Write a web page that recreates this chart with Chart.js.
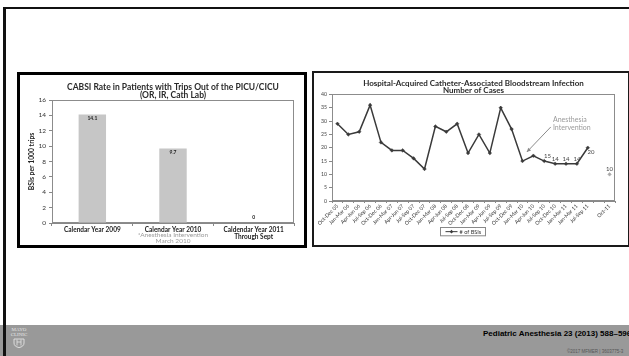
<!DOCTYPE html>
<html>
<head>
<meta charset="utf-8">
<script src="https://cdn.jsdelivr.net/npm/chart.js@4.4.1/dist/chart.umd.min.js"></script>
<style>
html,body{margin:0;padding:0;}
body{width:629px;height:356px;overflow:hidden;position:relative;background:#fff;font-family:"Liberation Sans",Arial,sans-serif;}
#footer{position:absolute;left:0;top:325px;width:629px;height:31px;background:#999;}
#frame{position:absolute;left:3px;top:7px;width:640px;height:360px;border-left:3px solid #111;border-top:2px solid #111;}
.panel{position:absolute;box-sizing:border-box;background:#fff;}
#p1{left:17px;top:72px;width:290px;height:176px;border:3px solid #000;}
#p2{left:312px;top:71px;width:318px;height:176px;border:2px solid #1a1a1a;}
.panel canvas{display:block;}
#cite{position:absolute;left:483px;top:329px;font-size:8px;font-weight:bold;line-height:9px;color:#000;white-space:nowrap;}
#copy{position:absolute;left:567px;top:349px;font-size:4.5px;line-height:5px;color:#555;white-space:nowrap;}
#logo{position:absolute;left:10px;top:328px;width:18px;color:#e4e4e4;font-family:"Liberation Serif","DejaVu Serif",serif;font-size:5px;line-height:4.6px;text-align:center;}
#logo svg{display:block;margin:1px auto 0;}
</style>
</head>
<body>
<div id="footer"></div>
<div id="frame"></div>
<div class="panel" id="p1"><canvas id="c1" width="284" height="170"></canvas></div>
<div class="panel" id="p2"><canvas id="c2" width="314" height="172"></canvas></div>
<div id="logo">MAYO<br>CLINIC<svg width="12" height="10" viewBox="0 0 12 10"><path d="M1 1 H11 V5 Q11 8.5 6 9.6 Q1 8.5 1 5 Z" fill="none" stroke="#e4e4e4" stroke-width="0.9"/><path d="M4 1.5 V7.5 M8 1.5 V7.5 M4 4 H8" fill="none" stroke="#e4e4e4" stroke-width="0.8"/></svg></div>
<div id="cite">Pediatric Anesthesia 23 (2013) 588–596</div>
<div id="copy">©2017 MFMER | 3603775-3</div>
<script>
// ---- Left chart data ----
const barTitle = ["CABSI Rate in Patients with Trips Out of the PICU/CICU", "(OR, IR, Cath Lab)"];
const barCategories = [["Calendar Year 2009"], ["Calendar Year 2010"], ["Caldendar Year 2011", "Through Sept"]];
const barCategoryNote = ["*Anesthesia Intervention", "March 2010"];
const barValues = [14.1, 9.7, 0];
const barValueLabels = ["14.1", "9.7", "0"];
const barAxisTitle = "BSIs per 1000 trips";

// ---- Right chart data ----
const bsiTitle = ["Hospital-Acquired Catheter-Associated Bloodstream Infection", "Number of Cases"];
const bsiQuarters = ["Oct-Dec 05", "Jan-Mar 06", "Apr-Jun 06", "Jul-Sep 06", "Oct-Dec 06", "Jan-Mar 07", "Apr-Jun 07", "Jul-Sep 07", "Oct-Dec 07", "Jan-Mar 08", "Apr-Jun 08", "Jul-Sep 08", "Oct-Dec 08", "Jan-Mar 09", "Apr-Jun 09", "Jul-Sep 09", "Oct-Dec 09", "Jan-Mar 10", "Apr-Jun 10", "Jul-Sep 10", "Oct-Dec 10", "Jan-Mar 11", "Jan-Mar 11", "Jul-Sep 11", "", "Oct-11"];
const bsiCounts = [29, 25, 26, 36, 22, 19, 19, 16, 12, 28, 26, 29, 18, 25, 18, 35, 27, 15, 17, 15, 14, 14, 14, 20, null, 10];
const bsiSeriesName = "# of BSIs";
const bsiNote = ["Anesthesia", "Intervention"];

const frameBox = {
  id: 'frameBox',
  beforeDatasetsDraw(chart, args, opts) {
    const {ctx, chartArea: a} = chart;
    ctx.save();
    ctx.strokeStyle = opts.color || '#8c8c8c';
    ctx.lineWidth = 1;
    ctx.strokeRect(Math.round(a.left) + 0.5, Math.round(a.top) + 0.5, Math.round(a.right - a.left) - 1, Math.round(a.bottom - a.top) - 1);
    ctx.restore();
  }
};

const barDecor = {
  id: 'barDecor',
  afterDatasetsDraw(chart) {
    const {ctx} = chart;
    const meta = chart.getDatasetMeta(0);
    ctx.save();
    ctx.font = 'bold 5px Lato';
    ctx.fillStyle = '#222';
    ctx.textAlign = 'center';
    ctx.textBaseline = 'middle';
    meta.data.forEach((bar, i) => {
      const h = bar.base - bar.y;
      const y = h > 12 ? bar.y + 4 : bar.y - 6;
      ctx.fillText(barValueLabels[i], bar.x, y);
    });
    const xs = chart.scales.x;
    ctx.font = '6.5px Lato';
    ctx.fillStyle = '#9a9a9a';
    const cx = xs.getPixelForValue(1);
    barCategoryNote.forEach((t, k) => ctx.fillText(t, cx, chart.chartArea.bottom + 12 + k * 6.2));
    ctx.restore();
  }
};

new Chart(document.getElementById('c1'), {
  type: 'bar',
  data: {
    labels: barCategories,
    datasets: [{
      data: barValues,
      backgroundColor: '#c6c6c6',
      borderWidth: 0,
      categoryPercentage: 1,
      barPercentage: 0.34
    }]
  },
  options: {
    responsive: false, animation: false, devicePixelRatio: 1,
    layout: {padding: {left: 4, right: 10, top: 0, bottom: 0}},
    plugins: {
      legend: {display: false},
      tooltip: {enabled: false},
      title: {display: true, fullSize: false, text: barTitle, color: '#2a2a2a',
        font: {family: 'Lato', weight: 'bold', size: 8.5, lineHeight: 0.965},
        padding: {top: 7.9, bottom: 0.7}},
      frameBox: {color: '#8c8c8c'}
    },
    scales: {
      x: {
        grid: {drawOnChartArea: false, tickLength: 3, color: '#888', offset: true},
        border: {color: '#888'},
        ticks: {font: {family: 'Lato', weight: 'bold', size: 6.5, lineHeight: 0.97}, color: '#222', padding: 1, maxRotation: 0, autoSkip: false},
        afterFit: s => { s.height = 22; }
      },
      y: {
        min: 0, max: 16,
        ticks: {stepSize: 2, font: {family: 'Lato', size: 6.5}, color: '#333', padding: 3},
        grid: {drawOnChartArea: false, tickLength: 3, color: '#888'},
        border: {color: '#888'},
        title: {display: true, text: barAxisTitle, color: '#222', font: {family: 'Lato', weight: 'bold', size: 6.8}, padding: {top: 4, bottom: 0}},
        afterFit: s => { s.width = 28; }
      }
    }
  },
  plugins: [frameBox, barDecor]
});

const bsiDecor = {
  id: 'bsiDecor',
  afterDatasetsDraw(chart, args, o) {
    const {ctx, chartArea: a} = chart;
    const xs = chart.scales.x, ys = chart.scales.y;
    const meta = chart.getDatasetMeta(0);
    ctx.save();
    ctx.font = '6px Lato';
    ctx.fillStyle = '#444';
    ctx.textAlign = 'center';
    ctx.textBaseline = 'middle';
    Object.keys(o.pointLabels).forEach(k => {
      const i = +k, off = o.pointLabels[k];
      const p = meta.data[i];
      ctx.fillText(String(bsiCounts[i]), p.x + off[0], p.y + off[1]);
    });
    ctx.fillStyle = '#9a9a9a';
    ctx.font = '7px Lato';
    ctx.textAlign = 'left';
    const tx = xs.getPixelForValue(o.noteAt[0]);
    const ty = ys.getPixelForValue(o.noteAt[1]);
    bsiNote.forEach((t, k) => ctx.fillText(t, tx, ty + k * 7.8));
    const x1 = xs.getPixelForValue(o.arrowFrom[0]), y1 = ys.getPixelForValue(o.arrowFrom[1]);
    const x2 = xs.getPixelForValue(o.arrowTo[0]), y2 = ys.getPixelForValue(o.arrowTo[1]);
    ctx.strokeStyle = '#8a8a8a';
    ctx.fillStyle = '#8a8a8a';
    ctx.lineWidth = 1;
    ctx.beginPath(); ctx.moveTo(x1, y1); ctx.lineTo(x2, y2); ctx.stroke();
    const ang = Math.atan2(y2 - y1, x2 - x1), hs = 4.5;
    ctx.beginPath();
    ctx.moveTo(x2, y2);
    ctx.lineTo(x2 - hs * Math.cos(ang - 0.45), y2 - hs * Math.sin(ang - 0.45));
    ctx.lineTo(x2 - hs * Math.cos(ang + 0.45), y2 - hs * Math.sin(ang + 0.45));
    ctx.closePath(); ctx.fill();
    const cx = a.left + o.legendCenter * (a.right - a.left);
    const w = 45, h = 8.3;
    const x0 = Math.round(cx - w / 2) + 0.5, y0 = Math.round(a.bottom + 26) + 0.5;
    ctx.strokeStyle = '#888';
    ctx.lineWidth = 1;
    ctx.strokeRect(x0, y0, w, h);
    const my = y0 + h / 2;
    ctx.strokeStyle = '#3a3a3a';
    ctx.beginPath(); ctx.moveTo(x0 + 5, my); ctx.lineTo(x0 + 17, my); ctx.stroke();
    ctx.fillStyle = '#3a3a3a';
    ctx.beginPath();
    ctx.moveTo(x0 + 11, my - 1.8); ctx.lineTo(x0 + 12.8, my); ctx.lineTo(x0 + 11, my + 1.8); ctx.lineTo(x0 + 9.2, my);
    ctx.closePath(); ctx.fill();
    ctx.fillStyle = '#333';
    ctx.font = '5.6px Lato';
    ctx.textAlign = 'left';
    ctx.fillText(bsiSeriesName, x0 + 19, my + 0.3);
    ctx.restore();
  }
};

new Chart(document.getElementById('c2'), {
  type: 'line',
  data: {
    labels: bsiQuarters,
    datasets: [{
      label: bsiSeriesName,
      data: bsiCounts,
      borderColor: '#3a3a3a',
      borderWidth: 1.5,
      pointStyle: 'rectRot',
      pointRadius: 1.8,
      pointBorderWidth: 0.5,
      pointBackgroundColor: c => c.dataIndex === bsiCounts.length - 1 ? '#aaaaaa' : '#3a3a3a',
      pointBorderColor: c => c.dataIndex === bsiCounts.length - 1 ? '#aaaaaa' : '#3a3a3a',
      spanGaps: false,
      tension: 0
    }]
  },
  options: {
    responsive: false, animation: false, devicePixelRatio: 1,
    layout: {padding: {left: 0, right: 13, top: 0, bottom: 20}},
    plugins: {
      legend: {display: false},
      tooltip: {enabled: false},
      title: {display: true, fullSize: false, text: bsiTitle, color: '#2a2a2a',
        font: {family: 'Lato', weight: 'bold', size: 8, lineHeight: 0.93},
        padding: {top: 6.6, bottom: 0}},
      frameBox: {color: '#8c8c8c'},
      bsiDecor: {
        pointLabels: {19: [3.3, -4.6], 20: [0, -4.2], 21: [0, -4.2], 22: [0, -4.2], 23: [3.2, 4], 25: [0, -5.8]},
        noteAt: [19.8, 30.6],
        arrowFrom: [19.6, 27.8],
        arrowTo: [17.4, 18.4],
        legendCenter: 0.461
      }
    },
    scales: {
      x: {
        offset: true,
        grid: {drawOnChartArea: false, tickLength: 2, color: '#888', offset: true},
        border: {color: '#888'},
        ticks: {font: {family: 'Lato', size: 5.2}, color: '#333', minRotation: 45, maxRotation: 45, autoSkip: false, padding: 0},
        afterFit: s => { s.height = 24; }
      },
      y: {
        min: 0, max: 40,
        ticks: {stepSize: 5, font: {family: 'Lato', size: 5.2}, color: '#444', padding: 2},
        grid: {drawOnChartArea: false, tickLength: 3, color: '#888'},
        border: {color: '#888'},
        afterFit: s => { s.width = 18; }
      }
    }
  },
  plugins: [frameBox, bsiDecor]
});
</script>
</body>
</html>
